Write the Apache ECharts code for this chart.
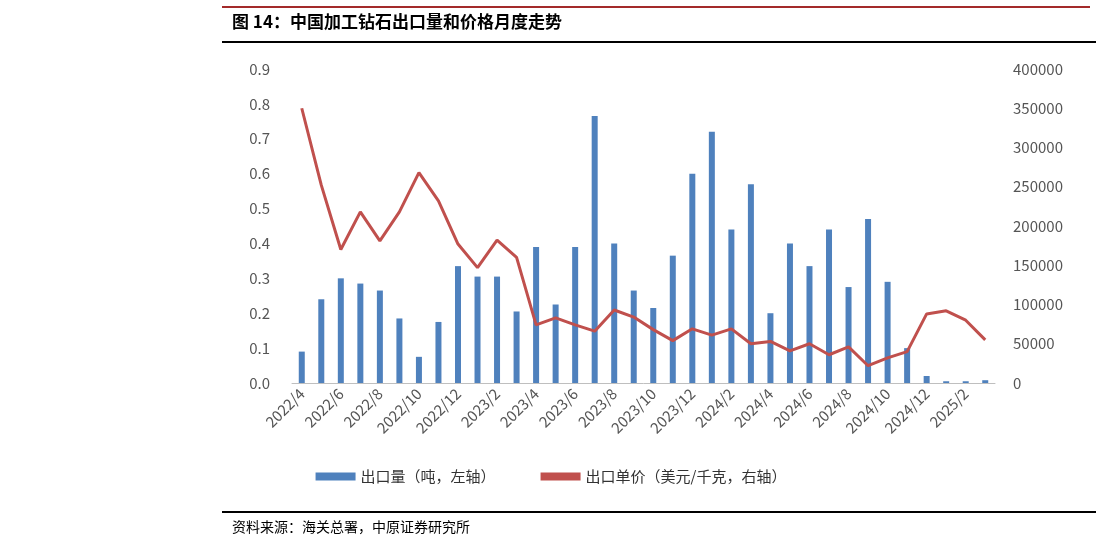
<!DOCTYPE html>
<html><head><meta charset="utf-8">
<script src="https://cdn.jsdelivr.net/npm/echarts@6/dist/echarts.min.js"></script>
<style>body{margin:0;background:#fff}#c{width:1102px;height:544px}</style>
</head><body><div id="c"></div>
<script>
var months = [];
for (var y = 2022, m = 4; !(y === 2025 && m === 4); ) {
	months.push(y + '/' + m);
	m++; if (m > 12) { m = 1; y++; }
}
var volume = [0.09,0.24,0.30,0.285,0.265,0.185,0.075,0.175,0.335,0.305,0.305,0.205,
	0.39,0.225,0.39,0.765,0.40,0.265,0.215,0.365,0.60,0.72,0.44,0.57,
	0.20,0.40,0.335,0.44,0.275,0.47,0.29,0.10,0.02,0.005,0.005,0.008];
var price = [350000,252000,170000,218000,181000,218000,268000,232000,177000,147000,182000,160000,
	74000,83000,74000,66000,93000,84000,68000,54000,69000,61000,69000,50000,
	53000,41000,50000,36000,46000,22000,32000,40000,88000,92000,80000,55000];
var leftTicks = ['0.0','0.1','0.2','0.3','0.4','0.5','0.6','0.7','0.8','0.9'];

var myChart = echarts.init(document.getElementById('c'));
var font = 'Noto Sans CJK SC';
myChart.setOption({
	animation: false,
	textStyle: { fontFamily: font },
	graphic: [
		{ type: 'rect', shape: { x: 222, y: 6, width: 868, height: 2 }, style: { fill: '#a32a2a' } },
		{ type: 'text', left: 232, top: 13, style: { text: '图 14：中国加工钻石出口量和价格月度走势', font: 'bold 17px "Noto Sans CJK SC"', fill: '#000' } },
		{ type: 'rect', shape: { x: 222, y: 41, width: 874, height: 2 }, style: { fill: '#000' } },
		{ type: 'rect', shape: { x: 222, y: 511, width: 874, height: 2 }, style: { fill: '#000' } },
		{ type: 'text', left: 232, top: 520, style: { text: '资料来源：海关总署，中原证券研究所', font: '14px "Noto Sans CJK SC"', fill: '#000' } }
	],
	legend: {
		bottom: 55, left: 'center', itemGap: 45, itemWidth: 40, itemHeight: 8,
		textStyle: { fontSize: 15, color: '#333' },
		data: [{ name: '出口量（吨，左轴）', icon: 'rect' }, { name: '出口单价（美元/千克，右轴）', icon: 'rect', itemStyle: { color: '#c0504d' } }]
	},
	grid: { left: 292, right: 107, top: 69, bottom: 161 },
	xAxis: {
		type: 'category', data: months,
		axisTick: { show: false },
		axisLine: { lineStyle: { color: '#bfbfbf' } },
		axisLabel: { interval: 1, rotate: 45, fontSize: 15, color: '#555', margin: 8 }
	},
	yAxis: [
		{ type: 'value', min: 0, max: 0.9, interval: 0.1, splitLine: { show: false },
			axisLabel: { fontSize: 15, color: '#555', margin: 22, formatter: function (v) { return leftTicks[Math.round(v * 10)]; } } },
		{ type: 'value', min: 0, max: 400000, interval: 50000, splitLine: { show: false },
			axisLabel: { fontSize: 15, color: '#555', margin: 18, formatter: function (v) { return String(v); } } }
	],
	series: [
		{ name: '出口量（吨，左轴）', type: 'bar', data: volume, barWidth: 6, itemStyle: { color: '#4f81bd' } },
		{ name: '出口单价（美元/千克，右轴）', type: 'line', yAxisIndex: 1, data: price, symbol: 'none',
			lineStyle: { color: '#c0504d', width: 3 }, itemStyle: { color: '#c0504d' } }
	]
});
</script></body></html>
